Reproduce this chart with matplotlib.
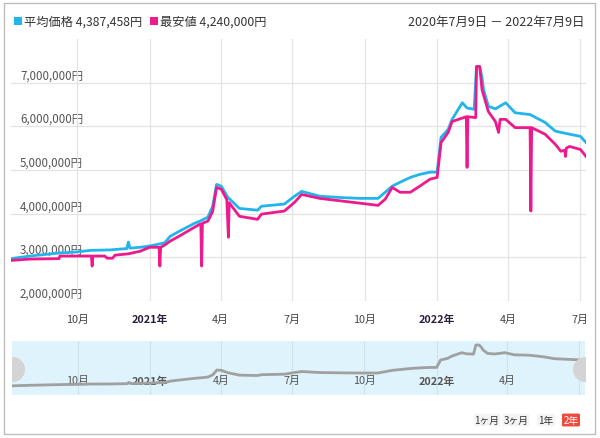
import numpy as np
import pandas as pd
import matplotlib
matplotlib.use("Agg")
import matplotlib.pyplot as plt
from matplotlib.patches import Rectangle

plt.rcParams['font.family'] = ['Noto Sans CJK JP', 'DejaVu Sans']

# average price (blue), million yen
avg_dates = ["2020-07-09", "2020-08-02", "2020-09-09", "2020-09-28", "2020-10-18",
             "2020-11-12", "2020-11-25", "2020-12-03", "2020-12-05", "2020-12-07",
             "2020-12-20", "2021-01-01", "2021-01-20", "2021-01-27", "2021-02-08",
             "2021-02-27", "2021-03-06", "2021-03-16", "2021-03-22", "2021-03-27",
             "2021-04-02", "2021-04-10", "2021-04-25", "2021-05-18", "2021-05-23",
             "2021-06-21", "2021-07-04", "2021-07-13", "2021-08-05", "2021-08-31",
             "2021-09-25", "2021-10-18", "2021-10-27", "2021-11-05", "2021-11-15",
             "2021-11-28", "2021-12-10", "2021-12-23", "2022-01-01", "2022-01-06",
             "2022-01-15", "2022-01-20", "2022-02-02", "2022-02-08", "2022-02-17",
             "2022-02-20", "2022-02-24", "2022-02-27", "2022-03-01", "2022-03-07",
             "2022-03-16", "2022-03-29", "2022-04-10", "2022-04-29", "2022-05-18",
             "2022-05-31", "2022-06-18", "2022-07-02", "2022-07-09"]
avg_vals = [2.97, 3.03, 3.10, 3.12, 3.16,
            3.17, 3.19, 3.20, 3.35, 3.21,
            3.23, 3.26, 3.33, 3.48, 3.60,
            3.78, 3.83, 3.92, 4.17, 4.67,
            4.63, 4.38, 4.12, 4.08, 4.17,
            4.22, 4.40, 4.51, 4.40, 4.37,
            4.35, 4.35, 4.49, 4.63, 4.72,
            4.83, 4.90, 4.95, 4.95, 5.75,
            5.93, 6.16, 6.54, 6.42, 6.39,
            7.37, 7.37, 7.12, 6.84, 6.46,
            6.40, 6.54, 6.31, 6.27, 6.09,
            5.89, 5.82, 5.77, 5.63]

# lowest price (pink), million yen
min_dates = ["2020-07-09", "2020-08-02", "2020-09-08", "2020-09-09", "2020-10-19",
             "2020-10-20", "2020-10-21", "2020-11-05", "2020-11-08", "2020-11-15",
             "2020-11-18", "2020-12-05", "2020-12-20", "2021-01-01", "2021-01-13",
             "2021-01-14", "2021-01-15", "2021-01-20", "2021-01-27", "2021-02-08",
             "2021-02-27", "2021-03-06", "2021-03-07", "2021-03-08", "2021-03-09",
             "2021-03-16", "2021-03-22", "2021-03-27", "2021-04-02", "2021-04-09",
             "2021-04-11", "2021-04-12", "2021-04-25", "2021-05-18", "2021-05-23",
             "2021-06-21", "2021-07-04", "2021-07-13", "2021-08-05", "2021-09-25",
             "2021-10-18", "2021-10-27", "2021-11-05", "2021-11-15", "2021-11-28",
             "2021-12-10", "2021-12-23", "2022-01-01", "2022-01-06", "2022-01-15",
             "2022-01-20", "2022-02-07", "2022-02-08", "2022-02-09", "2022-02-19",
             "2022-02-20", "2022-02-24", "2022-02-27", "2022-03-07", "2022-03-16",
             "2022-03-20", "2022-03-22", "2022-03-29", "2022-04-10", "2022-04-29",
             "2022-04-30", "2022-05-01", "2022-05-18", "2022-05-31", "2022-06-07",
             "2022-06-12", "2022-06-13", "2022-06-14", "2022-06-18", "2022-07-02",
             "2022-07-09"]
min_vals = [2.93, 2.96, 2.97, 3.03, 3.03,
            2.80, 3.03, 3.03, 2.98, 2.98,
            3.05, 3.08, 3.14, 3.23, 3.23,
            2.80, 3.23, 3.28, 3.37, 3.49,
            3.69, 3.76, 3.76, 2.80, 3.78,
            3.83, 4.05, 4.60, 4.56, 4.32,
            3.46, 4.25, 3.94, 3.87, 3.99,
            4.06, 4.26, 4.44, 4.35, 4.24,
            4.19, 4.33, 4.60, 4.49, 4.49,
            4.63, 4.79, 4.83, 5.63, 5.86,
            6.11, 6.22, 5.06, 6.22, 6.20,
            7.37, 7.37, 6.84, 6.34, 6.11,
            5.86, 6.16, 6.16, 5.97, 5.97,
            4.06, 5.97, 5.82, 5.59, 5.43,
            5.45, 5.31, 5.50, 5.54, 5.47,
            5.31]

tick_dates = ["2020-10-01", "2021-01-01", "2021-04-01", "2021-07-01",
              "2021-10-01", "2022-01-01", "2022-04-01", "2022-07-01"]
tick_labels = ["10月", "2021年", "4月", "7月", "10月", "2022年", "4月", "7月"]
nav_tick_labels = ["10月", "2021年", "4月", "7月", "10月", "2022年", "4月"]
y_ticks = [2, 3, 4, 5, 6, 7]

avg_x = pd.to_datetime(avg_dates)
avg_y = np.array(avg_vals) * 1e6
min_x = pd.to_datetime(min_dates)
min_y = np.array(min_vals) * 1e6
ticks = pd.to_datetime(tick_dates)
x0, x1 = pd.Timestamp("2020-07-09"), pd.Timestamp("2022-07-09")

BLUE = "#22b5ec"
PINK = "#ec1a8c"
W, H = 600, 439

fig = plt.figure(figsize=(6.0, 4.39), dpi=100)

# outer frame
fig.patches.append(Rectangle((4 / W, 1 - 435 / H), 591 / W, 431 / H,
                             transform=fig.transFigure, fill=False,
                             edgecolor="#bdbdbd", lw=1.0))

# legend / header
fig.patches.append(Rectangle((14 / W, 1 - 26 / H), 8 / W, 8 / H,
                             transform=fig.transFigure, color=BLUE, lw=0))
fig.text(24 / W, 1 - 22 / H, "平均価格 4,387,458円", color="#333333", fontsize=8.8, va="center")
fig.patches.append(Rectangle((150 / W, 1 - 26 / H), 8 / W, 8 / H,
                             transform=fig.transFigure, color=PINK, lw=0))
fig.text(160 / W, 1 - 22 / H, "最安値 4,240,000円", color="#333333", fontsize=8.8, va="center")
fig.text(585 / W, 1 - 22 / H, "2020年7月9日 － 2022年7月9日", color="#333333",
         fontsize=9.0, va="center", ha="right")

# main chart
ax = fig.add_axes([11 / W, 1 - 302 / H, 575 / W, 262 / H])
ax.plot(avg_x, avg_y, color=BLUE, lw=2.0, zorder=3, solid_joinstyle="round")
ax.plot(min_x, min_y, color=PINK, lw=2.0, zorder=4, solid_joinstyle="round")
ax.set_xlim(x0, x1)
ax.set_ylim(2e6, 8e6)
ax.set_yticks([v * 1e6 for v in y_ticks])
ax.set_yticklabels([])
ax.set_xticks(ticks)
ax.set_xticklabels(tick_labels)
ax.grid(True, color="#e3e3e3", lw=0.9)
ax.tick_params(length=0, pad=9, labelsize=7.8, colors="#444444")
for lab in ax.get_xticklabels():
    if "年" in lab.get_text():
        lab.set_fontweight("bold")
        lab.set_color("#2a1f3a")
for s in ax.spines.values():
    s.set_visible(False)
for v in y_ticks:
    ax.text(9 / 575, v * 1e6 + 0.03e6, f"{v * 1000000:,}円",
            transform=ax.get_yaxis_transform(), fontsize=8.3, color="#555555",
            va="bottom", ha="left", zorder=1)

# navigator
nav = fig.add_axes([12 / W, 1 - 396 / H, 573 / W, 54 / H])
nav.set_facecolor("#def3fb")
nav.plot(avg_x, avg_y, color="#a0a0a0", lw=2.0, zorder=3)
nav.set_xlim(x0, x1)
nav.set_ylim(1.98e6, 7.8e6)
nav.set_xticks(ticks)
nav.set_yticks([])
nav.grid(True, axis="x", color="#cde3ec", lw=0.8)
nav.tick_params(length=0, labelbottom=False)
for s in nav.spines.values():
    s.set_visible(False)
for d, lab in zip(ticks[:len(nav_tick_labels)], nav_tick_labels):
    nav.text(d, 0.27, lab, transform=nav.get_xaxis_transform(), fontsize=7.8,
             ha="center", va="center", color="#555555",
             fontweight="bold" if "年" in lab else "normal", zorder=2)
nav.plot([x0, x1], [0.48, 0.48], transform=nav.get_xaxis_transform(),
         ls="none", marker="o", ms=17, color="#d4d4d4", zorder=5, clip_on=True)

# range buttons
btn_x = [487, 516, 546, 571]
btn_lab = ["1ヶ月", "3ヶ月", "1年", "2年"]
for bx, bl in zip(btn_x, btn_lab):
    if bl == "2年":
        fig.text(bx / W, 1 - 421 / H, bl, fontsize=7, color="white", ha="center", va="center",
                 bbox=dict(boxstyle="round,pad=0.15", fc="#f0493e", ec="none"))
    else:
        fig.text(bx / W, 1 - 421 / H, bl, fontsize=7, color="#333333", ha="center", va="center",
                 bbox=dict(boxstyle="square,pad=0.1", fc="#f4f4f4", ec="none"))

fig.savefig("out.png", dpi=100)
